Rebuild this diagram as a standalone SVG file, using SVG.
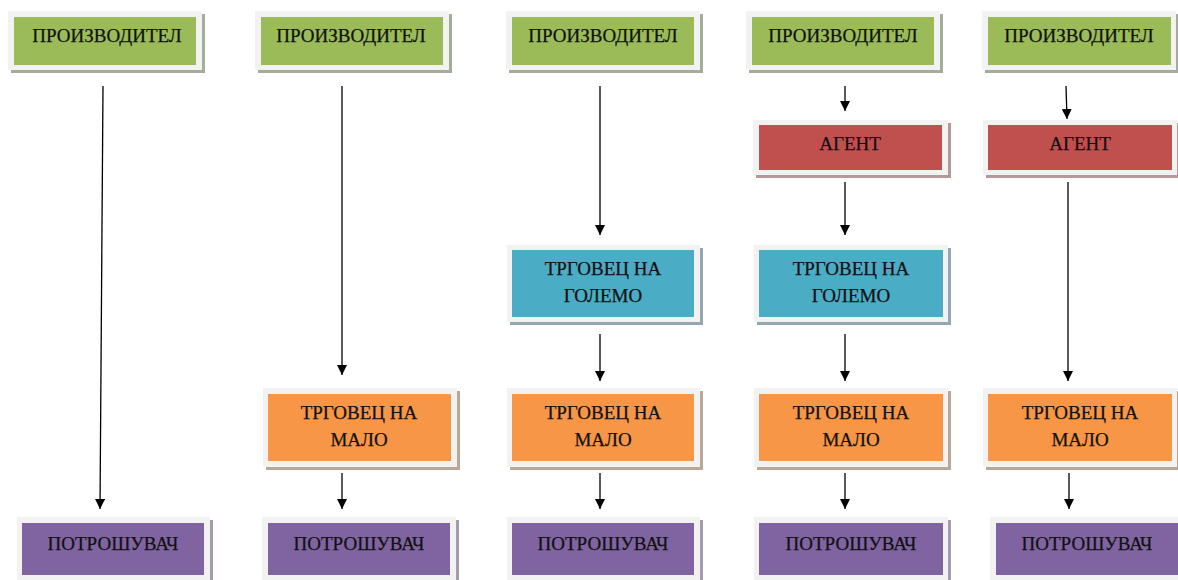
<svg xmlns="http://www.w3.org/2000/svg" width="1178" height="580" viewBox="0 0 1178 580">
<style>
.frame{fill:#f2f2f2}
.t{font-family:"Liberation Serif","Times New Roman",serif;font-size:19px;fill:#111;stroke:#111;stroke-width:0.25;text-anchor:middle}
.g .in{fill:#9BBB59}.g .sh{fill:#a4ad98}
.r .in{fill:#C0504D}.r .sh{fill:#b39a99}
.b .in{fill:#4BACC6}.b .sh{fill:#93a8ae}
.o .in{fill:#F79646}.o .sh{fill:#b9a897}
.p .in{fill:#8064A2}.p .sh{fill:#a49cad}
.c line{stroke:#000;stroke-width:1.3;marker-end:url(#ah)}
</style>
<defs>
<marker id="ah" viewBox="0 0 10 10" refX="10" refY="5" markerWidth="10" markerHeight="10" markerUnits="userSpaceOnUse" orient="auto">
<path d="M0,0 L10,5 L0,10 z" fill="#000"/>
</marker>
</defs>
<rect width="1178" height="580" fill="#fff"/>

<g id="prod1" class="g"><rect class="sh" x="11" y="14" width="194" height="59"/><rect class="frame" x="8" y="11" width="194" height="59"/><rect class="in" x="14" y="17" width="182" height="48"/><text class="t" x="107" y="42">ПРОИЗВОДИТЕЛ</text></g>
<g id="prod2" class="g"><rect class="sh" x="258" y="14" width="194" height="59"/><rect class="frame" x="255" y="11" width="194" height="59"/><rect class="in" x="261" y="17" width="182" height="48"/><text class="t" x="351" y="42">ПРОИЗВОДИТЕЛ</text></g>
<g id="prod3" class="g"><rect class="sh" x="509" y="14" width="194" height="59"/><rect class="frame" x="506" y="11" width="194" height="59"/><rect class="in" x="512" y="17" width="182" height="48"/><text class="t" x="603" y="42">ПРОИЗВОДИТЕЛ</text></g>
<g id="prod4" class="g"><rect class="sh" x="749" y="14" width="194" height="59"/><rect class="frame" x="746" y="11" width="194" height="59"/><rect class="in" x="752" y="17" width="182" height="48"/><text class="t" x="843" y="42">ПРОИЗВОДИТЕЛ</text></g>
<g id="prod5" class="g"><rect class="sh" x="985" y="14" width="194" height="59"/><rect class="frame" x="982" y="11" width="194" height="59"/><rect class="in" x="988" y="17" width="183" height="48"/><text class="t" x="1079" y="42">ПРОИЗВОДИТЕЛ</text></g>

<g id="agent4" class="r"><rect class="sh" x="756" y="123" width="195" height="55"/><rect class="frame" x="753" y="120" width="195" height="55"/><rect class="in" x="759" y="125" width="183" height="45"/><text class="t" x="850" y="150">АГЕНТ</text></g>
<g id="agent5" class="r"><rect class="sh" x="986" y="123" width="194" height="55"/><rect class="frame" x="983" y="120" width="194" height="55"/><rect class="in" x="988" y="125" width="184" height="45"/><text class="t" x="1080" y="150">АГЕНТ</text></g>

<g id="whole3" class="b"><rect class="sh" x="510" y="248" width="193" height="77"/><rect class="frame" x="507" y="245" width="193" height="77"/><rect class="in" x="512" y="250" width="182" height="67"/><text class="t" x="603" y="275">ТРГОВЕЦ НА</text><text class="t" x="603" y="302">ГОЛЕМО</text></g>
<g id="whole4" class="b"><rect class="sh" x="757" y="248" width="194" height="77"/><rect class="frame" x="754" y="245" width="194" height="77"/><rect class="in" x="759" y="250" width="184" height="67"/><text class="t" x="851" y="275">ТРГОВЕЦ НА</text><text class="t" x="851" y="302">ГОЛЕМО</text></g>

<g id="retail2" class="o"><rect class="sh" x="266" y="391" width="194" height="79"/><rect class="frame" x="263" y="388" width="194" height="79"/><rect class="in" x="268" y="394" width="183" height="67"/><text class="t" x="359" y="419">ТРГОВЕЦ НА</text><text class="t" x="359" y="446">МАЛО</text></g>
<g id="retail3" class="o"><rect class="sh" x="510" y="391" width="193" height="79"/><rect class="frame" x="507" y="388" width="193" height="79"/><rect class="in" x="512" y="394" width="182" height="67"/><text class="t" x="603" y="419">ТРГОВЕЦ НА</text><text class="t" x="603" y="446">МАЛО</text></g>
<g id="retail4" class="o"><rect class="sh" x="757" y="391" width="194" height="79"/><rect class="frame" x="754" y="388" width="194" height="79"/><rect class="in" x="759" y="394" width="184" height="67"/><text class="t" x="851" y="419">ТРГОВЕЦ НА</text><text class="t" x="851" y="446">МАЛО</text></g>
<g id="retail5" class="o"><rect class="sh" x="986" y="391" width="194" height="79"/><rect class="frame" x="983" y="388" width="194" height="79"/><rect class="in" x="988" y="394" width="184" height="67"/><text class="t" x="1080" y="419">ТРГОВЕЦ НА</text><text class="t" x="1080" y="446">МАЛО</text></g>

<g id="cons1" class="p"><rect class="sh" x="20" y="520" width="193" height="63"/><rect class="frame" x="17" y="517" width="193" height="63"/><rect class="in" x="22" y="523" width="182" height="52"/><text class="t" x="113" y="550">ПОТРОШУВАЧ</text></g>
<g id="cons2" class="p"><rect class="sh" x="265" y="520" width="194" height="63"/><rect class="frame" x="262" y="517" width="194" height="63"/><rect class="in" x="268" y="523" width="182" height="52"/><text class="t" x="359" y="550">ПОТРОШУВАЧ</text></g>
<g id="cons3" class="p"><rect class="sh" x="510" y="520" width="193" height="63"/><rect class="frame" x="507" y="517" width="193" height="63"/><rect class="in" x="512" y="523" width="182" height="52"/><text class="t" x="603" y="550">ПОТРОШУВАЧ</text></g>
<g id="cons4" class="p"><rect class="sh" x="757" y="520" width="194" height="63"/><rect class="frame" x="754" y="517" width="194" height="63"/><rect class="in" x="759" y="523" width="184" height="52"/><text class="t" x="851" y="550">ПОТРОШУВАЧ</text></g>
<g id="cons5" class="p"><rect class="sh" x="993" y="520" width="194" height="63"/><rect class="frame" x="990" y="517" width="194" height="63"/><rect class="in" x="996" y="523" width="182" height="52"/><text class="t" x="1087" y="550">ПОТРОШУВАЧ</text></g>

<g id="connectors" class="c">
<line x1="103" y1="86" x2="100" y2="509"/>
<line x1="342" y1="86" x2="342" y2="375"/>
<line x1="342" y1="473" x2="342" y2="509"/>
<line x1="600" y1="86" x2="600" y2="235"/>
<line x1="600" y1="334" x2="600" y2="381"/>
<line x1="600" y1="473" x2="600" y2="509"/>
<line x1="845" y1="86" x2="845" y2="111"/>
<line x1="845" y1="182" x2="845" y2="235"/>
<line x1="845" y1="334" x2="845" y2="381"/>
<line x1="845" y1="473" x2="845" y2="509"/>
<line x1="1066" y1="86" x2="1067" y2="119"/>
<line x1="1068" y1="182" x2="1068" y2="381"/>
<line x1="1069" y1="473" x2="1069" y2="509"/>
</g>
</svg>
